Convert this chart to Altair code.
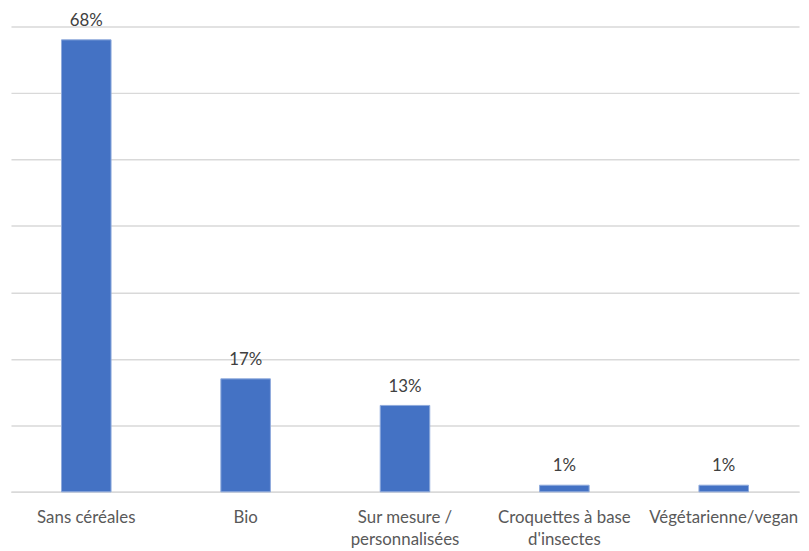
import altair as alt
import pandas as pd

categories = ["Sans céréales", "Bio", "Sur mesure /|personnalisées", "Croquettes à base|d'insectes", "Végétarienne/vegan"]
values = [68, 17, 13, 1, 1]
labels = ["68%", "17%", "13%", "1%", "1%"]

df = pd.DataFrame({"cat": categories, "val": values, "lab": labels})

FONT = "Lato"

x = alt.X("cat:N", sort=categories, title=None,
          scale=alt.Scale(paddingInner=0.689, paddingOuter=0.317),
          axis=alt.Axis(labelAngle=0, ticks=False, domainColor="#d9d9d9", domainWidth=1.5,
                        labelPadding=18, labelFont=FONT, labelFontSize=17, labelColor="#595959",
                        labelExpr="split(datum.label, '|')", labelLineHeight=22,
                        labelBaseline="top", grid=False))
y = alt.Y("val:Q", title=None,
          scale=alt.Scale(domain=[0, 70], nice=False),
          axis=alt.Axis(values=[0, 10, 20, 30, 40, 50, 60, 70], labels=False, ticks=False,
                        domain=False, grid=True, gridColor="#d9d9d9", gridWidth=1.5))

bars = alt.Chart(df).mark_bar(color="#4472C4", stroke="#8FAADC", strokeWidth=1).encode(x=x, y=y)
text = alt.Chart(df).mark_text(baseline="alphabetic", dy=-14, font=FONT, fontSize=17, color="#404040").encode(
    x=alt.X("cat:N", sort=categories), y="val:Q", text="lab:N")

chart = (bars + text).properties(
    width=796, height=470,
    background="white",
    autosize=alt.AutoSizeParams(type="none"),
    padding={"top": 16, "left": 3, "right": 2, "bottom": 55},
).configure_view(stroke="transparent", strokeWidth=0)

chart.save("out.html", embed_options={"renderer": "svg", "actions": False})
